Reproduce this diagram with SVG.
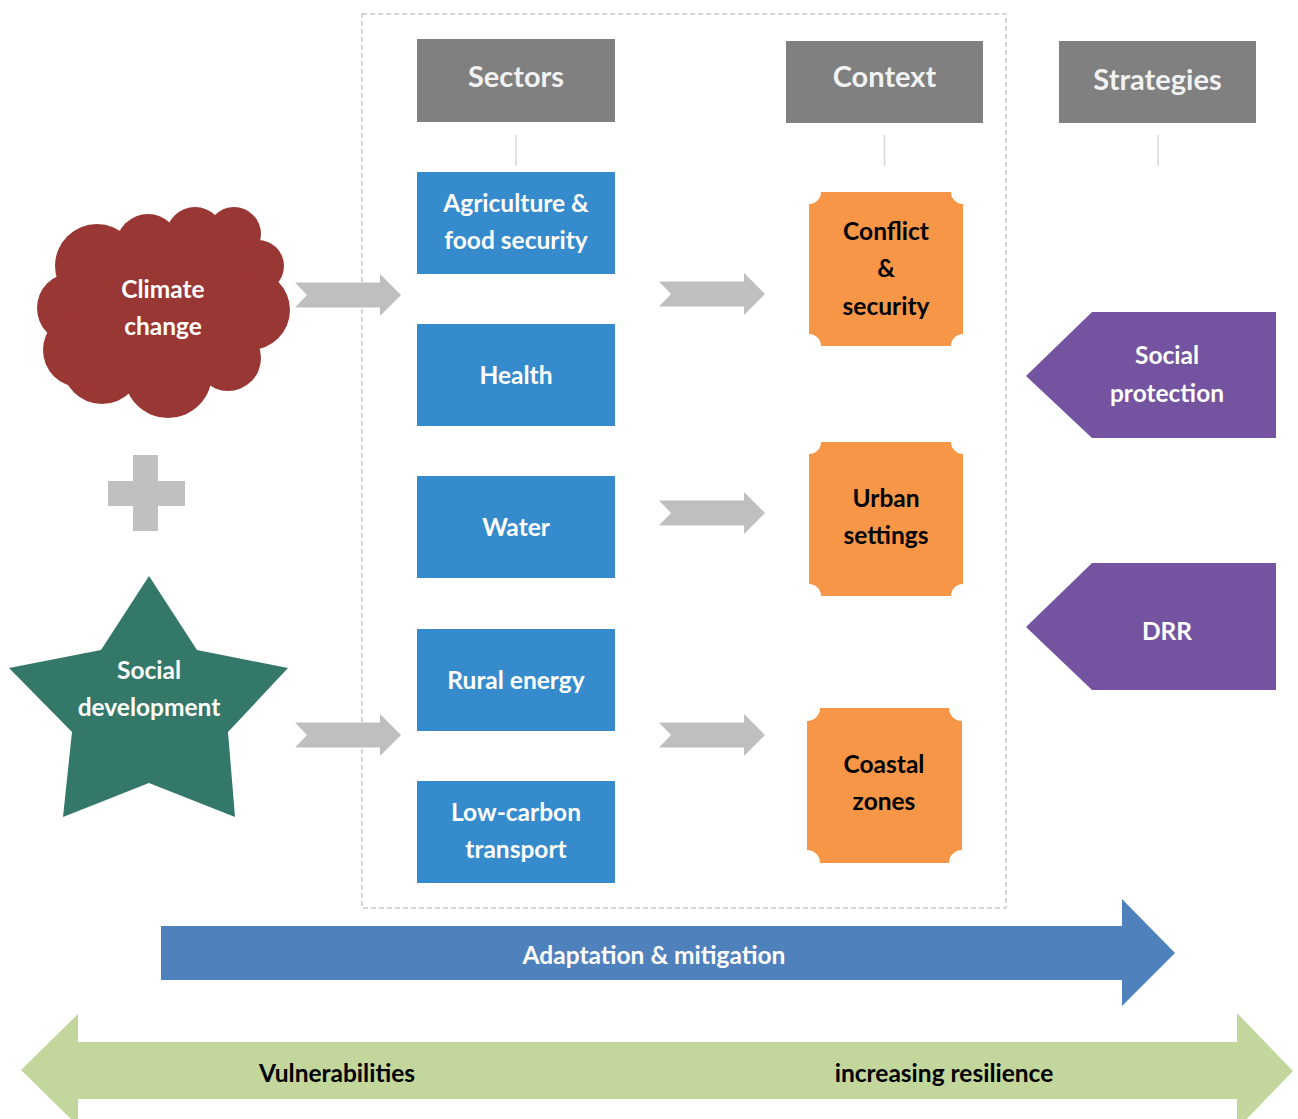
<svg xmlns="http://www.w3.org/2000/svg" width="1298" height="1119" viewBox="0 0 1298 1119">
  <style>
    text { font-family: Lato, "Open Sans", "Liberation Sans", sans-serif; font-weight: bold; text-anchor: middle; dominant-baseline: central; }
    .hdr rect { fill: #808080; }
    .hdr text { fill: #f2f2f2; font-size: 29px; }
    .tick { stroke: #d9d9d9; stroke-width: 1.5; }
    .sector rect { fill: #368bcc; }
    .wt { fill: #ffffff; font-size: 24.5px; }
    .bk { fill: #000000; font-size: 24.5px; }
    .ctx path { fill: #f79646; }
    .strat path { fill: #7453a0; }
    .chev { fill: #bfbfbf; }
  </style>
  <defs>
    <!-- grey chevron connector, origin at the notch -->
    <path id="chevron" d="M0,-12.5 H85 V-21 L106,0 L85,21 V12.5 H0 L12,0 Z"/>
  </defs>

  <!-- dashed frame round sectors and context -->
  <rect x="362" y="14" width="644" height="894" fill="none" stroke="#c8c8c8" stroke-width="1.5" stroke-dasharray="5,3"/>

  <!-- column headers -->
  <g id="hdr-sectors" class="hdr">
    <rect x="417" y="39" width="198" height="83"/>
    <text x="516" y="75">Sectors</text>
    <line class="tick" x1="516" y1="135" x2="516" y2="166"/>
  </g>
  <g id="hdr-context" class="hdr">
    <rect x="786" y="41" width="197" height="82"/>
    <text x="884.500" y="75">Context</text>
    <line class="tick" x1="884.500" y1="135" x2="884.500" y2="166"/>
  </g>
  <g id="hdr-strategies" class="hdr">
    <rect x="1059" y="41" width="197" height="82"/>
    <text x="1157.500" y="78">Strategies</text>
    <line class="tick" x1="1158" y1="135" x2="1158" y2="166"/>
  </g>

  <!-- climate change cloud -->
  <g id="climate-change" fill="#993735">
    <circle cx="97" cy="266" r="42"/>
    <circle cx="148" cy="246" r="32"/>
    <circle cx="195" cy="236" r="29"/>
    <circle cx="234" cy="234" r="27"/>
    <circle cx="258" cy="266" r="26"/>
    <circle cx="250" cy="310" r="40"/>
    <circle cx="228" cy="358" r="33"/>
    <circle cx="168" cy="374" r="44"/>
    <circle cx="102" cy="364" r="40"/>
    <circle cx="72" cy="308" r="35"/>
    <circle cx="80" cy="350" r="37"/>
    <ellipse cx="165" cy="310" rx="95" ry="70"/>
    <text class="wt" x="163" y="288">Climate</text>
    <text class="wt" x="163" y="325">change</text>
  </g>

  <!-- plus sign -->
  <g id="plus" fill="#c0c0c0">
    <rect x="133" y="455" width="25" height="76"/>
    <rect x="108" y="481" width="77" height="25"/>
  </g>

  <!-- social development star -->
  <g id="social-development">
    <polygon fill="#347869" points="149,576 197,650 288,668 228,732 235,817 149,783 63,817 72,732 9,668 101,650"/>
    <text class="wt" x="149" y="669">Social</text>
    <text class="wt" x="149" y="706">development</text>
  </g>

  <!-- sectors -->
  <g id="sector-agriculture" class="sector">
    <rect x="417" y="172" width="198" height="102"/>
    <text class="wt" x="516" y="202">Agriculture &amp;</text>
    <text class="wt" x="516" y="239">food security</text>
  </g>
  <g id="sector-health" class="sector">
    <rect x="417" y="324" width="198" height="102"/>
    <text class="wt" x="516" y="374">Health</text>
  </g>
  <g id="sector-water" class="sector">
    <rect x="417" y="476" width="198" height="102"/>
    <text class="wt" x="516" y="526">Water</text>
  </g>
  <g id="sector-energy" class="sector">
    <rect x="417" y="629" width="198" height="102"/>
    <text class="wt" x="516" y="679">Rural energy</text>
  </g>
  <g id="sector-transport" class="sector">
    <rect x="417" y="781" width="198" height="102"/>
    <text class="wt" x="516" y="811">Low-carbon</text>
    <text class="wt" x="516" y="848">transport</text>
  </g>

  <!-- contexts (plaques with concave corners) -->
  <g id="ctx-conflict" class="ctx">
    <path d="M821,192 H951 A12,12 0 0 0 963,204 V334 A12,12 0 0 0 951,346 H821 A12,12 0 0 0 809,334 V204 A12,12 0 0 0 821,192 Z"/>
    <text class="bk" x="886" y="230">Conflict</text>
    <text class="bk" x="886" y="267">&amp;</text>
    <text class="bk" x="886" y="305">security</text>
  </g>
  <g id="ctx-urban" class="ctx">
    <path d="M821,442 H951 A12,12 0 0 0 963,454 V584 A12,12 0 0 0 951,596 H821 A12,12 0 0 0 809,584 V454 A12,12 0 0 0 821,442 Z"/>
    <text class="bk" x="886" y="497">Urban</text>
    <text class="bk" x="886" y="534">settings</text>
  </g>
  <g id="ctx-coastal" class="ctx">
    <path d="M820,708 H949 A13,13 0 0 0 962,721 V850 A13,13 0 0 0 949,863 H820 A13,13 0 0 0 807,850 V721 A13,13 0 0 0 820,708 Z"/>
    <text class="bk" x="884" y="763">Coastal</text>
    <text class="bk" x="884" y="800">zones</text>
  </g>

  <!-- strategies -->
  <g id="strat-social-protection" class="strat">
    <path d="M1092,312 H1276 V438 H1092 L1026,376 Z"/>
    <text class="wt" x="1167" y="354">Social</text>
    <text class="wt" x="1167" y="392">protection</text>
  </g>
  <g id="strat-drr" class="strat">
    <path d="M1092,563 H1276 V690 H1092 L1026,627 Z"/>
    <text class="wt" x="1167" y="630">DRR</text>
  </g>

  <!-- connectors -->
  <g id="connectors" class="chev">
    <use href="#chevron" x="295" y="295"/>
    <use href="#chevron" x="659" y="294"/>
    <use href="#chevron" x="659" y="513"/>
    <use href="#chevron" x="295" y="735"/>
    <use href="#chevron" x="659" y="735"/>
  </g>

  <!-- adaptation & mitigation arrow -->
  <g id="adaptation-mitigation">
    <path fill="#4f81bd" d="M161,926 H1122 V899 L1175,953 L1122,1006 V980 H161 Z"/>
    <text class="wt" x="654" y="954">Adaptation &amp; mitigation</text>
  </g>

  <!-- vulnerabilities / resilience double arrow -->
  <g id="vulnerability-resilience">
    <path fill="#c3d69b" d="M21,1070 L78,1014 V1042 H1237 V1013 L1293,1071 L1237,1129 V1099 H78 V1126 Z"/>
    <text class="bk" x="337" y="1072">Vulnerabilities</text>
    <text class="bk" x="944" y="1072">increasing resilience</text>
  </g>
</svg>
